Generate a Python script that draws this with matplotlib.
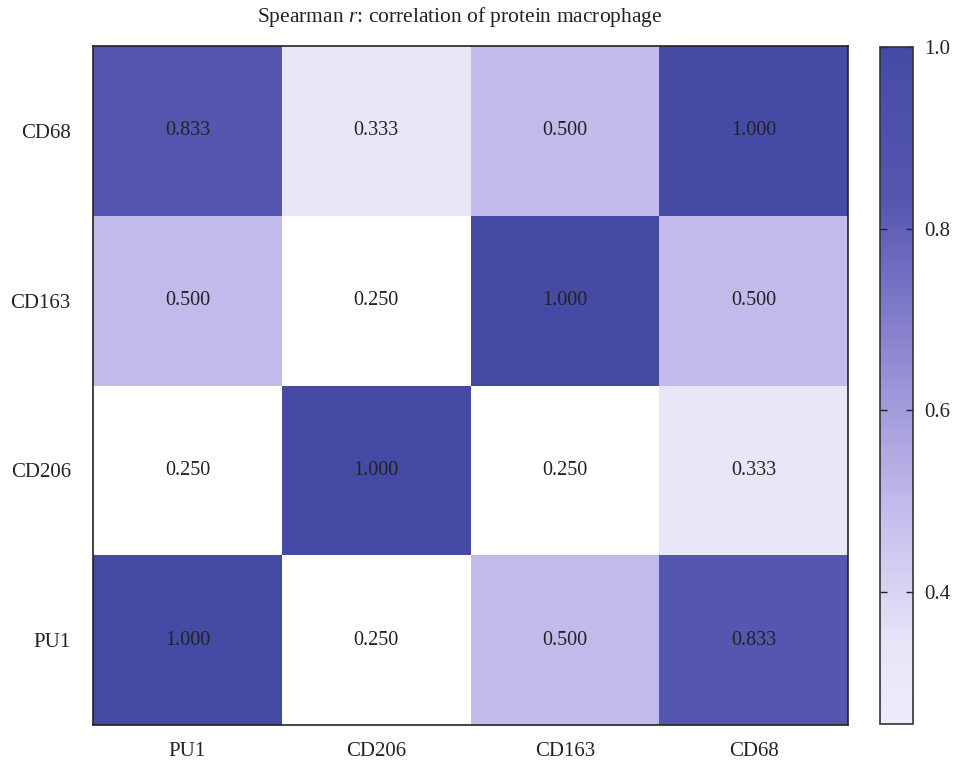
import matplotlib
matplotlib.use("Agg")
import matplotlib.pyplot as plt
import numpy as np
from matplotlib.colors import LinearSegmentedColormap

plt.rcParams['font.family'] = ['Liberation Serif', 'DejaVu Serif']
plt.rcParams['mathtext.fontset'] = 'custom'
plt.rcParams['mathtext.it'] = 'Liberation Serif:italic'
plt.rcParams['mathtext.rm'] = 'Liberation Serif'

# columns left to right, rows bottom to top
col_labels = ['PU1', 'CD206', 'CD163', 'CD68']
row_labels = ['PU1', 'CD206', 'CD163', 'CD68']
row_pu1 = [1.000, 0.250, 0.500, 0.833]
row_cd206 = [0.250, 1.000, 0.250, 0.333]
row_cd163 = [0.500, 0.250, 1.000, 0.500]
row_cd68 = [0.833, 0.333, 0.500, 1.000]

values = np.array([row_pu1, row_cd206, row_cd163, row_cd68])

# lavender -> slate blue
cmap = LinearSegmentedColormap.from_list('spear', [
    (0.0, '#eeecf9'),
    (0.111, '#e9e5f7'),
    (0.333, '#c0b9ea'),
    (0.55, '#8f88d2'),
    (0.778, '#5556b0'),
    (1.0, '#454ba5'),
])
cmap.set_under('white')

fig = plt.figure(figsize=(9.57, 7.65), dpi=100)
W, H = 957, 765
ax = fig.add_axes([93 / W, 1 - 725 / H, (848 - 93) / W, (725 - 46) / H])
cax = fig.add_axes([880 / W, 1 - 724 / H, (913 - 880) / W, (724 - 47) / H])

mesh = ax.pcolormesh(values, cmap=cmap, vmin=0.255, vmax=1.0)
for i in range(values.shape[0]):
    for j in range(values.shape[1]):
        ax.text(j + 0.5, i + 0.5, f"{values[i, j]:.3f}", ha='center', va='center',
                fontsize=14.5, color='#222222')

ax.set_xticks(np.arange(len(col_labels)) + 0.5)
ax.set_xticklabels(col_labels)
ax.set_yticks(np.arange(len(row_labels)) + 0.5)
ax.set_yticklabels(row_labels)
ax.tick_params(length=0, labelsize=15, colors='#222222')
ax.tick_params(axis='x', pad=12)
ax.tick_params(axis='y', pad=16)
for s in ax.spines.values():
    s.set_linewidth(1.2)
    s.set_color('#222222')

cb = fig.colorbar(mesh, cax=cax)
cb.set_ticks([0.4, 0.6, 0.8, 1.0])
cb.ax.tick_params(direction='in', length=5, width=1, left=True, right=True,
                  labelsize=15, pad=8, colors='#222222')
cb.outline.set_linewidth(1.2)
cb.outline.set_edgecolor('#333333')

fig.text(460 / W, 1 - 17 / H, r"Spearman $\mathit{r}$: correlation of protein macrophage",
         ha='center', va='center', fontsize=15.5, color='#222222')

fig.savefig('out.png', dpi=100)
